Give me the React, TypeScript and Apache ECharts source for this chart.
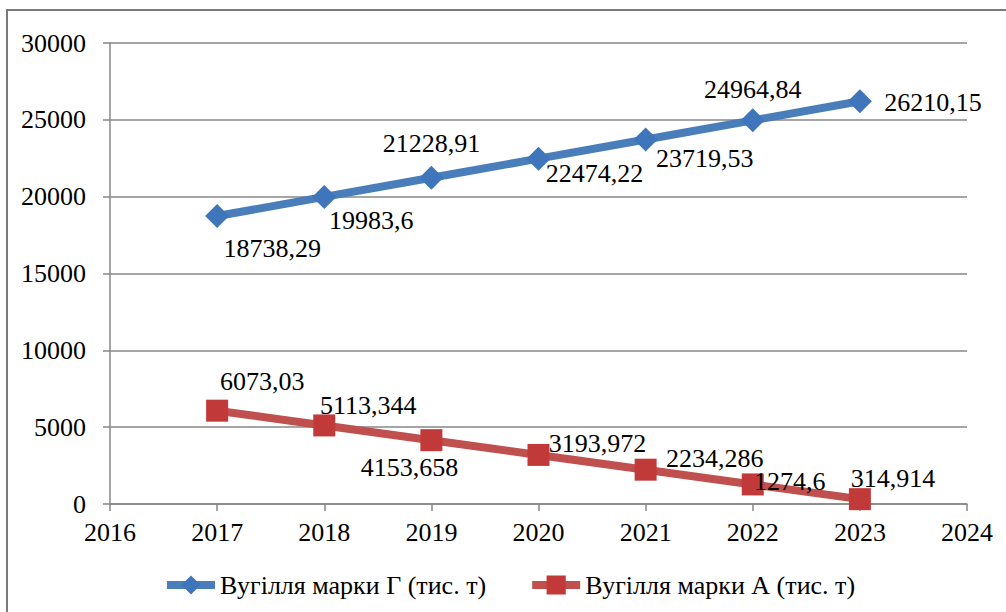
import React, { useEffect, useRef } from "react";
import * as echarts from "echarts";

const years = [2017, 2018, 2019, 2020, 2021, 2022, 2023];
const coalG = [18738.29, 19983.6, 21228.91, 22474.22, 23719.53, 24964.84, 26210.15];
const coalA = [6073.03, 5113.344, 4153.658, 3193.972, 2234.286, 1274.6, 314.914];
const seriesNames = ["Вугілля марки Г (тис. т)", "Вугілля марки А (тис. т)"];

// label offsets (dx, dy) relative to each point
const offsetsG: [number, number][] = [
  [55, 32], [47, 24], [0, -34], [56, 15], [59, 19], [0, -31], [73, 1],
];
const offsetsA: [number, number][] = [
  [45, -29], [44, -20], [-22, 27], [59, -11], [69, -11], [37, -3], [33, -21],
];

const FONT = "Liberation Serif";
const FS = 26;
const GRAY = "#878787";

const fmt = (v: number) => String(v).replace(".", ",");

export default function App() {
  const ref = useRef<HTMLDivElement>(null);
  useEffect(() => {
    if (!ref.current) return;
    const chart = echarts.init(ref.current, undefined, { renderer: "svg" });
    const mk = (vals: number[], offs: [number, number][]) =>
      vals.map((v, i) => ({
        value: [years[i], v],
        label: {
          show: true,
          position: "inside",
          offset: offs[i],
          formatter: fmt(v),
          fontFamily: FONT,
          fontSize: FS,
          color: "#000",
        },
      }));
    chart.setOption({
      animation: false,
      backgroundColor: "#fff",
      textStyle: { fontFamily: FONT },
      graphic: [
        {
          type: "rect",
          shape: { x: 7, y: 10, width: 1010, height: 620 },
          style: { fill: "none", stroke: "#7a7a7a", lineWidth: 2 },
          silent: true,
          z: 100,
        },
      ],
      grid: { left: 110, right: 39, top: 43, bottom: 108 },
      legend: {
        top: 567,
        left: 158,
        itemGap: 42,
        itemWidth: 48,
        itemHeight: 24,
        lineStyle: { width: 8 },
        textStyle: { fontFamily: FONT, fontSize: FS, color: "#000" },
        data: seriesNames,
      },
      xAxis: {
        type: "value",
        min: 2016,
        max: 2024,
        interval: 1,
        axisLine: { show: true, lineStyle: { color: GRAY, width: 1.5 } },
        axisTick: { show: true, length: 7, lineStyle: { color: GRAY, width: 1.5 } },
        axisLabel: {
          formatter: (v: number) => String(v),
          fontFamily: FONT,
          fontSize: FS,
          color: "#000",
          margin: 15,
        },
        splitLine: { show: false },
      },
      yAxis: {
        type: "value",
        min: 0,
        max: 30000,
        interval: 5000,
        axisLine: { show: true, lineStyle: { color: GRAY, width: 1.5 } },
        axisTick: { show: true, length: 7, lineStyle: { color: GRAY, width: 1.5 } },
        axisLabel: {
          formatter: (v: number) => String(v),
          fontFamily: FONT,
          fontSize: FS,
          color: "#000",
          margin: 24,
        },
        splitLine: { show: true, lineStyle: { color: GRAY, width: 1.5 } },
      },
      series: [
        {
          name: seriesNames[0],
          type: "line",
          data: mk(coalG, offsetsG),
          symbol: "diamond",
          symbolSize: 24,
          lineStyle: { color: "#4a7ebb", width: 8 },
          itemStyle: { color: "#3f75bb" },
          z: 3,
        },
        {
          name: seriesNames[1],
          type: "line",
          data: mk(coalA, offsetsA),
          symbol: "rect",
          symbolSize: 22,
          lineStyle: { color: "#c0504d", width: 8 },
          itemStyle: { color: "#c2393a" },
          z: 3,
        },
      ],
    });
    return () => chart.dispose();
  }, []);
  return (
    <div
      ref={ref}
      style={{ position: "fixed", left: 0, top: 0, width: 1006, height: 612 }}
    />
  );
}
